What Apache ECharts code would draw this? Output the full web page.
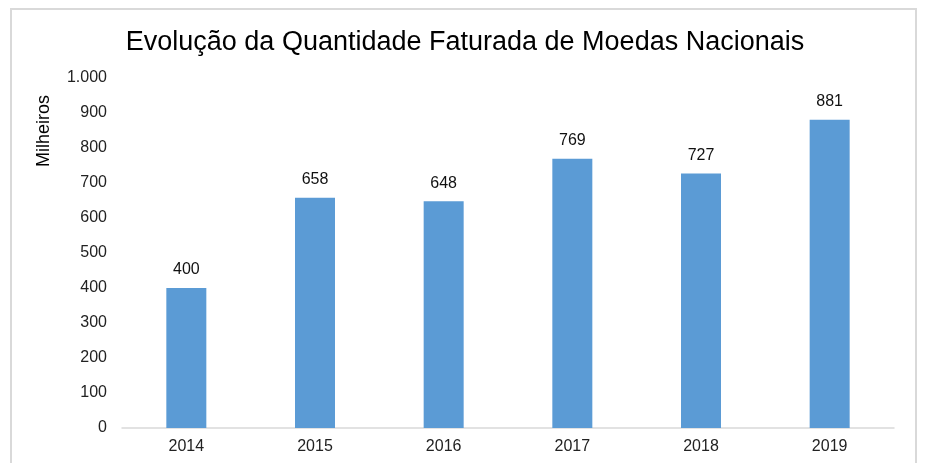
<!DOCTYPE html>
<html>
<head>
<meta charset="utf-8">
<script src="https://cdn.jsdelivr.net/npm/echarts@6/dist/echarts.min.js"></script>
<style>
  html, body { margin: 0; padding: 0; background: #fff; }
  #main { width: 930px; height: 463px; }
</style>
</head>
<body>
<div id="main"></div>
<script>
var years = ['2014', '2015', '2016', '2017', '2018', '2019'];
var quantidade = [400, 658, 648, 769, 727, 881];

var chart = echarts.init(document.getElementById('main'));

var option = {
  backgroundColor: '#fff',
  textStyle: { fontFamily: 'Liberation Sans, Arial, sans-serif' },
  title: {
    text: 'Evolução da Quantidade Faturada de Moedas Nacionais',
    left: 'center',
    top: 24,
    textStyle: { fontSize: 27, fontWeight: 'normal', color: '#000', fontFamily: 'Liberation Sans' }
  },
  graphic: [
    {
      type: 'rect',
      shape: { x: 11, y: 9, width: 905, height: 480 },
      style: { fill: 'none', stroke: '#d9d9d9', lineWidth: 2 },
      silent: true
    },
    {
      type: 'text',
      x: 44,
      y: 131,
      rotation: Math.PI / 2,
      style: {
        text: 'Milheiros',
        fontSize: 18,
        fontFamily: 'Liberation Sans',
        fill: '#000',
        align: 'center',
        verticalAlign: 'middle'
      }
    }
  ],
  grid: { left: 122, right: 36, top: 78, bottom: 35 },
  xAxis: {
    type: 'category',
    data: years,
    axisLine: { lineStyle: { color: '#d9d9d9', width: 1.5 } },
    axisTick: { show: false },
    axisLabel: { color: '#222', fontSize: 16, margin: 11 }
  },
  yAxis: {
    type: 'value',
    min: 0,
    max: 1000,
    interval: 100,
    splitLine: { show: false },
    axisLine: { show: false },
    axisTick: { show: false },
    axisLabel: {
      color: '#222',
      fontSize: 16,
      margin: 15,
      formatter: function (v) { return v === 1000 ? '1.000' : String(v); }
    }
  },
  series: [{
    type: 'bar',
    data: quantidade,
    barWidth: 40,
    itemStyle: { color: '#5b9bd5' },
    label: { show: true, position: 'top', distance: 10, color: '#111', fontSize: 16 }
  }]
};

chart.setOption(option);
</script>
</body>
</html>
